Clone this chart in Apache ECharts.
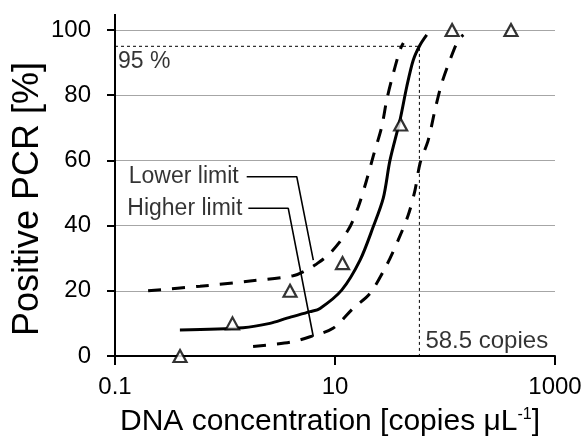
<!DOCTYPE html>
<html>
<head>
<meta charset="utf-8">
<script src="https://cdn.jsdelivr.net/npm/echarts@6/dist/echarts.min.js"></script>
<style>
html,body{margin:0;padding:0;background:#fff;}
#c{width:587px;height:438px;}
</style>
</head>
<body>
<div id="c"></div>
<script>
// Observed data (triangles)
var obsX = [0.39, 1.17, 3.9, 11.7, 39.5, 116, 398];
var obsY = [0, 10, 20, 28.5, 71, 100, 100];
// Fitted curve (solid)
var fitX = [0.389, 1.46, 2.56, 3.66, 5.93, 7.31, 11.5, 16.9, 22.3, 27.5, 31.6, 39.0, 44.9, 51.5, 59.3, 68.2];
var fitY = [8.0, 8.7, 10.0, 11.6, 13.6, 14.6, 20.2, 29.4, 39.7, 48.5, 60, 72.4, 82.6, 90.8, 95.4, 98.5];
// Upper confidence band (left dashed)
var upX = [0.2, 0.593, 1.69, 4.15, 5.56, 6.58, 9.01, 13.2, 16.3, 19.4, 22.3, 26.6, 29.5, 33.9, 39.0, 41.8];
var upY = [20, 21.4, 23.0, 24.6, 26.4, 27.9, 31.5, 38.7, 45.8, 54, 61.4, 70.3, 78.5, 86.7, 93.9, 96];
// Lower confidence band (right dashed)
var lowX = [1.8, 3.9, 5.93, 9.59, 14.6, 20.8, 29.5, 37.6, 46.4, 53.4, 59.3, 70.5, 81.1, 93.3, 111, 132, 147];
var lowY = [2.9, 4.2, 5.9, 8.5, 14.6, 19.2, 27.9, 35.6, 43.3, 50.9, 59.1, 66.3, 75.5, 83.6, 90.8, 96.9, 98.5];
// Reference: 95 % detection at 58.5 copies
var refX = [0.1, 58.5, 58.5];
var refY = [95, 95, 0];
// Leader lines
var lowerLeadX = [1.575, 4.49, 6.35];
var lowerLeadY = [55, 55, 29.4];
var higherLeadX = [1.63, 3.76, 6.35];
var higherLeadY = [45.3, 45.3, 5.9];
// Annotation texts and their anchor values
var annText = ['Lower limit', 'Higher limit', '95 %', '58.5 copies'];
var annX = [1.575, 1.63, 0.1, 58.5];
var annY = [55, 45.3, 90.2, 4.4];
// Axis settings
var xMin = 0.1, xMax = 1000;
var yMin = 0, yMax = 100, yStep = 20;

function pairs(xs, ys){ return xs.map(function(x,i){ return [x, ys[i]]; }); }

var FONT = '"Liberation Sans", Arial, sans-serif';
var annStyle = [
  {position: 'left', distance: 8, fontSize: 23},
  {position: 'left', distance: 6, fontSize: 23},
  {position: 'right', distance: 3, fontSize: 23},
  {position: 'right', distance: 6, fontSize: 24}
];
var chart = echarts.init(document.getElementById('c'), null, {renderer:'canvas'});
var option = {
  animation: false,
  backgroundColor: '#fff',
  grid: {left: 115, right: 32, top: 30, bottom: 82, containLabel: false, outerBoundsMode: 'none'},
  xAxis: {
    type: 'log', logBase: 10, min: xMin, max: xMax, interval: 2,
    name: 'DNA concentration [copies μL{sup|-1}]',
    nameLocation: 'middle', nameGap: 51, nameMoveOverlap: false,
    nameTextStyle: {fontFamily: FONT, fontSize: 30, color: '#000', padding: [0, 10, 0, 0],
      rich: {sup: {fontFamily: FONT, fontSize: 16, color: '#000', verticalAlign: 'top', padding:[0,0,13,0]}}},
    axisLine: {show: true, onZero: false, lineStyle: {color: '#000', width: 2}},
    axisTick: {show: true, inside: false, length: 9, lineStyle: {color: '#000', width: 2}},
    minorTick: {show: false},
    axisLabel: {margin: 19, fontFamily: FONT, fontSize: 24, color: '#000',
      formatter: function(v){ return String(v); }},
    splitLine: {show: false}
  },
  yAxis: {
    type: 'value', min: yMin, max: yMax, interval: yStep,
    name: 'Positive PCR [%]', nameLocation: 'middle', nameGap: 69, nameMoveOverlap: false,
    nameTextStyle: {fontFamily: FONT, fontSize: 36, color: '#000', padding: [0, 12, 0, 0]},
    axisLine: {show: true, lineStyle: {color: '#000', width: 2}},
    axisTick: {show: true, inside: false, length: 8, lineStyle: {color: '#000', width: 2}},
    axisLabel: {margin: 24, fontFamily: FONT, fontSize: 24, color: '#000'},
    splitLine: {show: true, lineStyle: {color: '#a6a6a6', width: 1}}
  },
  series: [
    {type: 'line', data: pairs(refX, refY), symbol: 'none', silent: true,
      lineStyle: {color: '#000', width: 1, type: [3, 3]}, z: 2},
    {type: 'line', data: pairs(upX, upY), symbol: 'none', smooth: 0.3,
      lineStyle: {color: '#000', width: 3, type: [13, 11]}, z: 3},
    {type: 'line', data: pairs(lowX, lowY), symbol: 'none', smooth: 0.3,
      lineStyle: {color: '#000', width: 3, type: [13, 11]}, z: 3},
    {type: 'line', data: pairs(fitX, fitY), symbol: 'none', smooth: 0.3,
      lineStyle: {color: '#000', width: 3}, z: 4},
    {type: 'line', data: pairs(lowerLeadX, lowerLeadY), symbol: 'none',
      lineStyle: {color: '#000', width: 1.6}, z: 4},
    {type: 'line', data: pairs(higherLeadX, higherLeadY), symbol: 'none',
      lineStyle: {color: '#000', width: 1.6}, z: 4},
    {type: 'scatter', data: pairs(obsX, obsY), symbol: 'triangle', symbolSize: [13, 12],
      itemStyle: {color: '#fff', borderColor: '#000', borderWidth: 2.2}, z: 6},
    {type: 'scatter', symbolSize: 0, silent: true, z: 7,
      data: annText.map(function(t, i){
        var s = annStyle[i];
        return {value: [annX[i], annY[i]],
          label: {show: true, position: s.position, distance: s.distance, formatter: t,
            fontFamily: FONT, fontSize: s.fontSize, color: '#000'}};
      })}
  ]
};
chart.setOption(option);
// extend y axis line slightly above 100 like the original
var topPx = chart.convertToPixel({yAxisIndex: 0}, yMax);
var x0 = chart.convertToPixel({xAxisIndex: 0}, xMin);
chart.setOption({graphic: [{type: 'line', shape: {x1: x0, y1: topPx - 16, x2: x0, y2: topPx},
  style: {stroke: '#000', lineWidth: 2}, z: 10}]});
</script>
</body>
</html>
